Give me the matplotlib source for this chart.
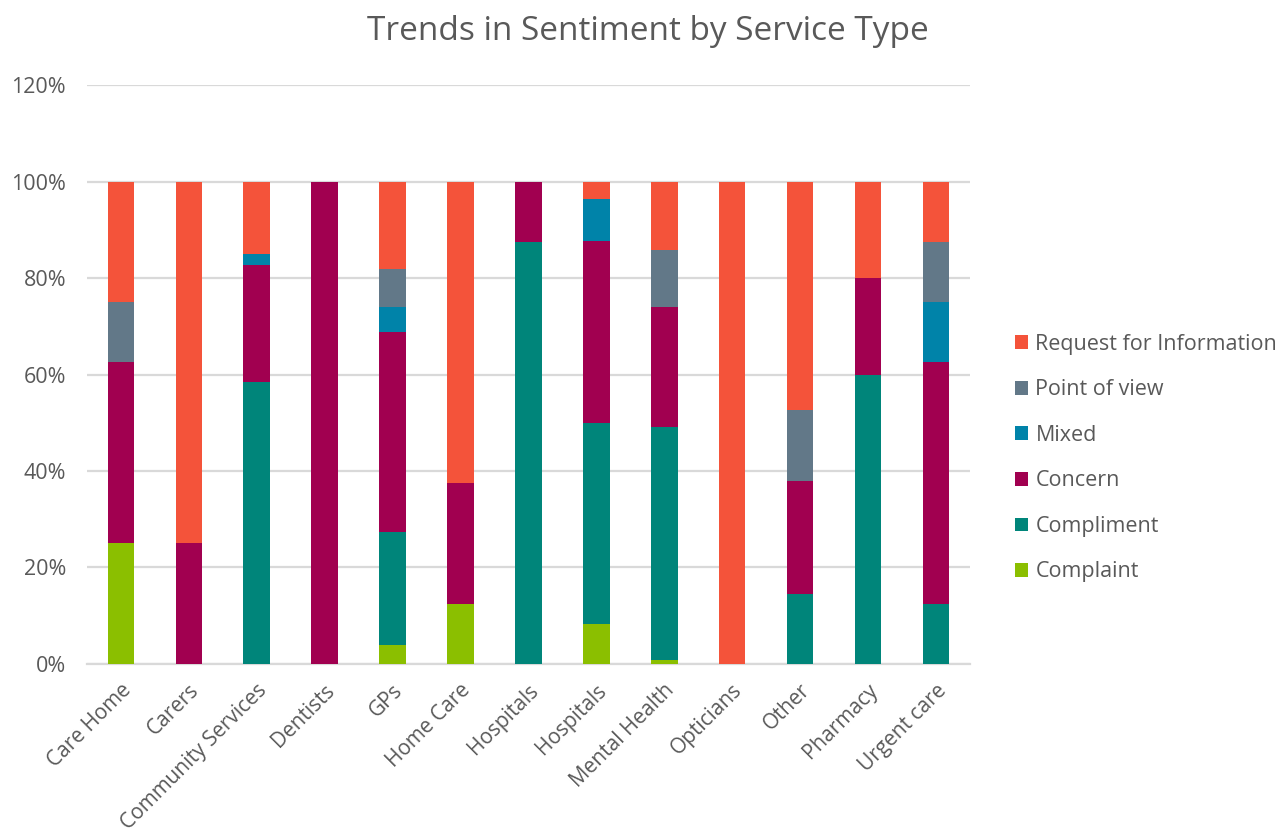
import matplotlib
matplotlib.use("Agg")
import matplotlib.pyplot as plt
import matplotlib.transforms as mtransforms
import numpy as np
from matplotlib.ticker import FuncFormatter

plt.rcParams['font.family'] = ['Open Sans', 'DejaVu Sans']

categories = ["Care Home", "Carers", "Community Services", "Dentists", "GPs",
              "Home Care", "Hospitals", "Hospitals", "Mental Health", "Opticians",
              "Other", "Pharmacy", "Urgent care"]

# Share of each sentiment per service type (percent)
complaint   = [25.0, 0.0, 0.0,  0.0,   4.0, 12.5, 0.0,  8.3, 0.7, 0.0,   0.0,  0.0, 0.0]
compliment  = [0.0,  0.0, 58.5, 0.0,  23.3, 0.0, 87.5, 41.7, 48.4, 0.0, 14.5, 60.0, 12.5]
concern     = [37.5, 25.0, 24.3, 100.0, 41.6, 25.0, 12.5, 37.8, 25.0, 0.0, 23.5, 20.0, 50.0]
mixed       = [0.0,  0.0, 2.1,  0.0,   5.2, 0.0, 0.0,  8.7, 0.0, 0.0,   0.0,  0.0, 12.5]
point_view  = [12.5, 0.0, 0.0,  0.0,   7.8, 0.0, 0.0,  0.0, 11.8, 0.0, 14.7,  0.0, 12.5]
request     = [25.0, 75.0, 15.1, 0.0,  18.1, 62.5, 0.0,  3.5, 14.1, 100.0, 47.3, 20.0, 12.5]

series = [
    ("Complaint", complaint, "#8BBF00"),
    ("Compliment", compliment, "#00857A"),
    ("Concern", concern, "#A10050"),
    ("Mixed", mixed, "#0083A9"),
    ("Point of view", point_view, "#627888"),
    ("Request for Information", request, "#F4533A"),
]

text_color = '#595959'
fs = 15.5

fig = plt.figure(figsize=(12.78, 8.36), dpi=100)
ax = fig.add_axes([0.068, 0.206, 0.691, 0.692])

x = np.arange(len(categories))
bottom = np.zeros(len(categories))
handles = []
for name, vals, color in series:
    v = np.array(vals)
    b = ax.bar(x, v, 0.39, bottom=bottom, color=color, label=name, zorder=3)
    handles.append(b)
    bottom += v

ax.set_ylim(0, 120)
ax.set_xlim(-0.5, len(categories) - 0.5)
ax.set_yticks(np.arange(0, 121, 20))
ax.yaxis.set_major_formatter(FuncFormatter(lambda v, p: f"{int(v)}%"))
ax.grid(axis='y', color='#D9D9D9', linewidth=1.6, zorder=0)
for s in ["top", "right", "left"]:
    ax.spines[s].set_visible(False)
ax.spines["bottom"].set_color('#D9D9D9')
ax.spines["bottom"].set_linewidth(1.6)
ax.tick_params(axis='both', length=0, colors=text_color, labelsize=fs)
ax.tick_params(axis='y', pad=15)
ax.tick_params(axis='x', pad=17, labelsize=15)
ax.set_xticks(x)
ax.set_xticklabels(categories, rotation=45, ha='right', va='center',
                   rotation_mode='anchor')
shift = mtransforms.ScaledTranslation(0.07, 0, fig.dpi_scale_trans)
for lbl in ax.get_xticklabels():
    lbl.set_transform(lbl.get_transform() + shift)

fig.text(0.507, 0.962, "Trends in Sentiment by Service Type", ha='center', va='center',
         fontsize=24, color=text_color)

leg = fig.legend(handles[::-1], [s[0] for s in series][::-1], loc='center left',
                 bbox_to_anchor=(0.779, 0.452), frameon=False, fontsize=fs,
                 handlelength=0.6, handleheight=0.6, handletextpad=0.35,
                 labelspacing=1.14, labelcolor=text_color)

fig.savefig("out.png", dpi=100)
